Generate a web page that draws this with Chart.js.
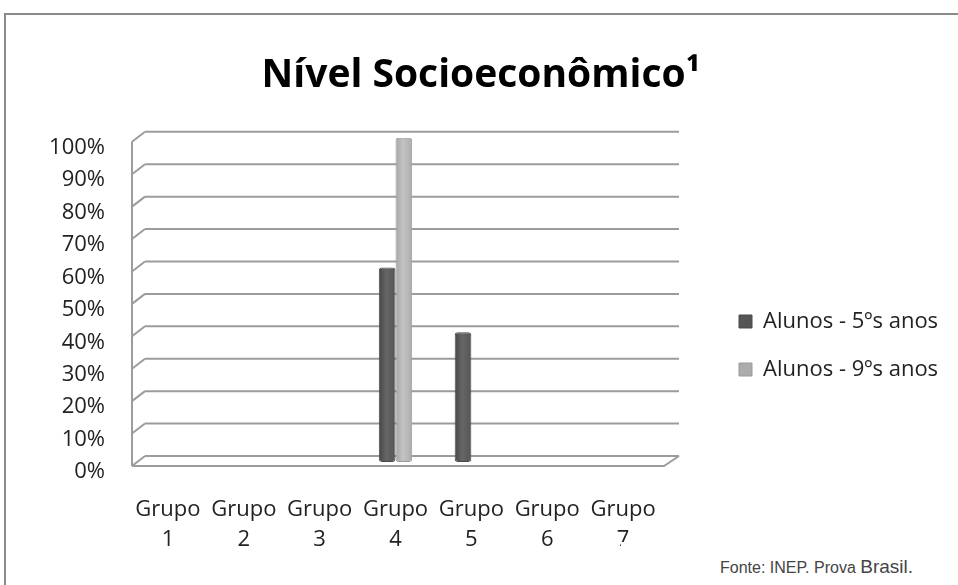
<!DOCTYPE html>
<html>
<head>
<meta charset="utf-8">
<script src="https://cdn.jsdelivr.net/npm/chart.js@4.4.0/dist/chart.umd.min.js"></script>
<style>
  html, body { margin: 0; padding: 0; background: #fff; overflow: hidden; }
  #wrap { position: relative; width: 958px; height: 585px; }
  #frame { position: absolute; left: 4px; top: 13px; width: 970px; height: 600px; border: 2px solid #8a8a8a; }
  #chart { position: absolute; left: 0; top: 0; }
  #fonte { position: absolute; left: 621px; top: 542px; width: 334px; height: 45px; background: #fff;
           font-family: "Liberation Sans", Arial, sans-serif; font-size: 16px; color: #444; }
  #fonte span { position: absolute; left: 99px; top: 14px; white-space: nowrap; }
  #fonte b { font-weight: normal; font-size: 19px; }
</style>
</head>
<body>
<div id="wrap">
  <div id="frame"></div>
  <canvas id="chart" width="958" height="585"></canvas>
  <div id="fonte"><span>Fonte: INEP. Prova <b>Brasil.</b></span></div>
</div>
<script>
// ========== Dados do gráfico ==========
const grupos = [["Grupo", "1"], ["Grupo", "2"], ["Grupo", "3"], ["Grupo", "4"],
    ["Grupo", "5"], ["Grupo", "6"], ["Grupo", "7"]];
const alunos5 = [0, 0, 0, 60, 40, 0, 0];
const alunos9 = [0, 0, 0, 100, 0, 0, 0];
const ticksY = [0, 10, 20, 30, 40, 50, 60, 70, 80, 90, 100];

const fontFamily = "'Open Sans', 'DejaVu Sans', sans-serif";
const catPct = 0.44;

// cor em degradê para imitar as barras cilíndricas
function cylinder(stops, dsIndex) {
    return function (c) {
        const chart = c.chart;
        const x = chart.scales && chart.scales.x;
        if (!x || !chart.chartArea) return stops[1];
        const w = (chart.chartArea.right - chart.chartArea.left) / grupos.length * catPct / 2;
        const center = x.getPixelForValue(c.dataIndex);
        const left = dsIndex === 0 ? center - w : center;
        const g = chart.ctx.createLinearGradient(left, 0, left + w, 0);
        g.addColorStop(0, stops[0]);
        g.addColorStop(0.45, stops[1]);
        g.addColorStop(1, stops[2]);
        return g;
    };
}

// paredes "3D" do gráfico (grade ao fundo, eixo da frente, piso)
const wallPlugin = {
    id: "wall3d",
    afterLayout(chart) {
        // afasta a legenda do gráfico
        if (chart.legend) {
            chart.legend.left += 52;
            chart.legend.right += 52;
        }
    },
    beforeDatasetsDraw(chart) {
        const { ctx, chartArea: a, scales: { y } } = chart;
        ctx.save();
        ctx.strokeStyle = "#9c9c9c";
        ctx.lineWidth = 2;
        ctx.beginPath();
        ticksY.forEach(v => {
            const py = y.getPixelForValue(v);
            // linha de grade no fundo
            ctx.moveTo(a.left + 15, py - 6);
            ctx.lineTo(a.right + 18, py - 6);
            // diagonal da parede esquerda
            ctx.moveTo(a.left + 2, py + 4);
            ctx.lineTo(a.left + 15, py - 6);
        });
        // eixo vertical da frente
        ctx.moveTo(a.left + 2, y.getPixelForValue(100) + 4);
        ctx.lineTo(a.left + 2, y.getPixelForValue(0) + 4);
        // piso
        const b = y.getPixelForValue(0);
        ctx.moveTo(a.left + 2, b + 4);
        ctx.lineTo(a.right + 3, b + 4);
        ctx.lineTo(a.right + 18, b - 6);
        ctx.stroke();
        ctx.restore();
    }
};

new Chart(document.getElementById("chart"), {
    type: "bar",
    data: {
        labels: grupos,
        datasets: [{
            label: "Alunos - 5ºs anos",
            data: alunos5,
            backgroundColor: cylinder(["#474747", "#666666", "#555555"], 0),
            borderColor: "#4a4a4a",
            borderWidth: 1,
            borderRadius: 3,
            borderSkipped: false,
            categoryPercentage: catPct,
            barPercentage: 1.0
        }, {
            label: "Alunos - 9ºs anos",
            data: alunos9,
            backgroundColor: cylinder(["#a4a4a4", "#c4c4c4", "#acacac"], 1),
            borderColor: "#9a9a9a",
            borderWidth: 1,
            borderRadius: 3,
            borderSkipped: false,
            categoryPercentage: catPct,
            barPercentage: 1.0
        }]
    },
    options: {
        responsive: false,
        animation: false,
        layout: { padding: { left: 22, right: 18, top: 20, bottom: 0 } },
        scales: {
            x: {
                grid: { display: false, drawTicks: false },
                border: { display: false },
                afterFit: s => {
                    s.paddingRight = 297;
                    s.height = 123;
                },
                ticks: {
                    color: "#222",
                    font: { family: fontFamily, size: 22, lineHeight: 1.35 },
                    padding: 33,
                    maxRotation: 0,
                    autoSkip: false
                }
            },
            y: {
                min: 0,
                max: 100,
                grid: { display: false, drawTicks: false },
                border: { display: false },
                afterFit: s => { s.width = 108; },
                ticks: {
                    stepSize: 10,
                    color: "#222",
                    font: { family: fontFamily, size: 22 },
                    padding: 25,
                    labelOffset: 10,
                    callback: v => v + "%"
                }
            }
        },
        plugins: {
            title: {
                display: true,
                text: "Nível Socioeconômico¹",
                color: "#000",
                font: { family: fontFamily, size: 39, weight: "bold" },
                padding: { top: 32, bottom: 39 }
            },
            legend: {
                display: true,
                position: "right",
                title: { display: true, text: " ", font: { size: 10 }, padding: { top: 37, bottom: 37 } },
                labels: {
                    color: "#222",
                    font: { family: fontFamily, size: 22 },
                    boxWidth: 13,
                    boxHeight: 13,
                    padding: 26
                }
            },
            tooltip: { enabled: false }
        }
    },
    plugins: [wallPlugin]
});
</script>
</body>
</html>
